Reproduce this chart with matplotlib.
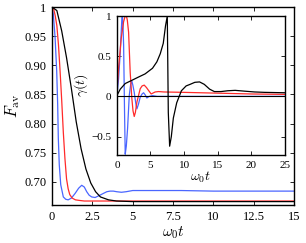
import matplotlib
matplotlib.use("Agg")
import matplotlib.pyplot as plt

plt.rcParams['font.family'] = ['Liberation Serif', 'DejaVu Serif']
plt.rcParams['mathtext.fontset'] = 'cm'

# ---- main panel data ----
t_black = [0, 0.3, 0.6, 0.9, 1.2, 1.5, 1.8, 2.1, 2.4, 2.7, 3.0, 3.5, 4, 5, 6, 8, 10, 15]
F_black = [1.0, 0.994, 0.959, 0.913, 0.86, 0.803, 0.757, 0.722, 0.698, 0.683, 0.674, 0.669, 0.667,
           0.666, 0.666, 0.666, 0.666, 0.666]

t_red = [0, 0.1, 0.2, 0.3, 0.4, 0.5, 0.6, 0.7, 0.8, 0.9, 1.0, 1.1, 1.25, 1.45, 1.7, 2.0, 2.5, 3, 4, 6,
         10, 15]
F_red = [1.0, 0.997, 0.985, 0.968, 0.935, 0.89, 0.84, 0.785, 0.74, 0.705, 0.688, 0.678, 0.672, 0.669,
         0.668, 0.667, 0.667, 0.667, 0.667, 0.667, 0.667, 0.667]

t_blue = [0, 0.08, 0.19, 0.29, 0.35, 0.39, 0.45, 0.54, 0.7, 0.85, 1.0, 1.2, 1.43, 1.65, 1.84, 2.0,
          2.15, 2.3, 2.46, 2.67, 2.9, 3.18, 3.4, 3.6, 3.8, 4.0, 4.3, 4.6, 5, 5.5, 6, 7, 8, 10, 12, 15]
F_blue = [1.0, 0.988, 0.948, 0.89, 0.833, 0.775, 0.729, 0.695, 0.674, 0.670, 0.669, 0.672, 0.68,
          0.689, 0.694, 0.691, 0.683, 0.677, 0.674, 0.673, 0.676, 0.68, 0.683, 0.684, 0.684, 0.683,
          0.682, 0.683, 0.685, 0.685, 0.685, 0.685, 0.685, 0.684, 0.684, 0.684]

main_xticks = [0, 2.5, 5, 7.5, 10, 12.5, 15]
main_xlabels = ['0', '2.5', '5', '7.5', '10', '12.5', '15']
main_yticks = [0.70, 0.75, 0.80, 0.85, 0.90, 0.95, 1.0]
main_ylabels = ['0.70', '0.75', '0.80', '0.85', '0.90', '0.95', '1']

# ---- inset data ----
gt_blue = [0, 0.25, 0.5, 0.74, 0.82, 0.9, 1.0, 1.14, 1.24, 1.4, 1.59, 1.84, 2.05, 2.23, 2.4, 2.58,
           2.8, 2.98, 3.2, 3.47, 3.75, 3.97, 4.2, 4.46, 4.8, 5.3, 6, 25]
g_blue = [0.0, 0.22, 0.55, 0.97, 1.0, 0.9, 0.64, -0.2, -0.72, -0.62, -0.4, 0.01, 0.15, 0.19, 0.13,
          0.05, -0.08, -0.155, -0.1, -0.01, 0.03, 0.045, 0.02, -0.02, 0.0, 0.01, 0.0, 0.0]

gt_red = [0, 0.25, 0.64, 1.0, 1.2, 1.39, 1.55, 1.74, 1.98, 2.23, 2.4, 2.58, 2.75, 2.98, 3.47, 3.75,
          4.07, 4.4, 4.7, 5.1, 5.7, 6.2, 7, 10, 15, 20, 25]
g_red = [0.05, 0.35, 0.72, 0.93, 0.99, 1.01, 0.95, 0.8, 0.3, -0.03, -0.18, -0.25, -0.2, -0.07, 0.095,
         0.13, 0.14, 0.11, 0.075, 0.03, 0.055, 0.06, 0.055, 0.05, 0.04, 0.03, 0.025]

gt_black = [0, 0.5, 1.24, 2.23, 3.2, 4.2, 5.3, 5.95, 6.45, 6.9, 7.24, 7.5, 7.65, 7.85, 8.1, 8.4, 8.9,
            9.6, 10.3, 10.9, 11.6, 12.3, 13.0, 13.8, 14.5, 15.5, 16.5, 17.6, 19, 20.5, 22, 25]
g_black = [0.01, 0.09, 0.16, 0.2, 0.24, 0.28, 0.35, 0.43, 0.53, 0.66, 0.88, 1.0, -0.2, -0.62, -0.5,
           -0.27, -0.08, 0.07, 0.13, 0.15, 0.175, 0.18, 0.15, 0.09, 0.06, 0.06, 0.07, 0.075, 0.065,
           0.055, 0.05, 0.045]

ins_xticks = [0, 5, 10, 15, 20, 25]
ins_yticks = [-0.5, 0, 0.5, 1]
ins_ylabels = ['\u22120.5', '0', '0.5', '1']

blue = '#4a66ff'
red = '#ff2a2a'

fig = plt.figure(figsize=(3.06, 2.43), dpi=100)
ax = fig.add_axes([0.170, 0.156, 0.791, 0.815])
ax.plot(t_blue, F_blue, color=blue, lw=0.9)
ax.plot(t_red, F_red, color=red, lw=0.9)
ax.plot(t_black, F_black, color='black', lw=0.9)
ax.set_xlim(0, 15)
ax.set_ylim(0.66, 1.0)
ax.set_xticks(main_xticks)
ax.set_xticklabels(main_xlabels)
ax.set_yticks(main_yticks)
ax.set_yticklabels(main_ylabels)
ax.tick_params(direction='in', top=True, right=True, labelsize=9, length=3, width=0.6, pad=4)
for s in ax.spines.values():
    s.set_linewidth(1.0)
ax.set_xlabel(r'$\omega_0 t$', fontsize=11, labelpad=1)
ax.set_ylabel(r'$F_{\rm av}$', fontsize=12, labelpad=2)

ins = fig.add_axes([0.382, 0.362, 0.549, 0.572])
ins.plot(gt_blue, g_blue, color=blue, lw=0.9)
ins.plot(gt_red, g_red, color=red, lw=0.9)
ins.plot(gt_black, g_black, color='black', lw=0.9)
ins.axhline(0, color='black', lw=0.8)
ins.set_xlim(0, 25)
ins.set_ylim(-0.73, 1.0)
ins.set_xticks(ins_xticks)
ins.set_yticks(ins_yticks)
ins.set_yticklabels(ins_ylabels)
ins.tick_params(direction='in', top=True, right=True, labelsize=8, length=3, width=0.6, pad=4)
for s in ins.spines.values():
    s.set_linewidth(1.0)
ins.set_xlabel(r'$\omega_0 t$', fontsize=10, labelpad=0)
ins.set_ylabel(r'$\gamma(t)$', fontsize=10, labelpad=1)

fig.savefig('out.png', dpi=100)
